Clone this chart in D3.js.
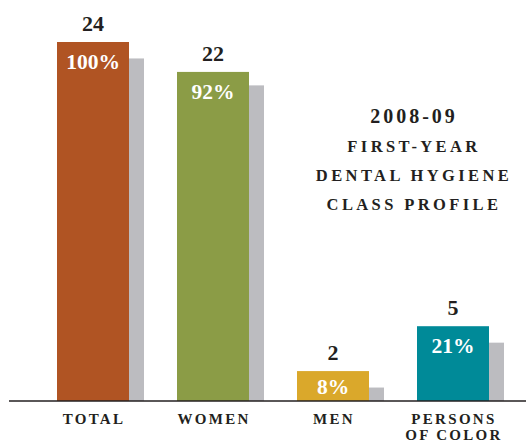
<!DOCTYPE html>
<html>
<head>
<meta charset="utf-8">
<script src="https://cdn.jsdelivr.net/npm/d3@7"></script>
<style>
  body { margin: 0; background: #fff; }
  text { font-family: "Liberation Serif", "DejaVu Serif", serif; }
</style>
</head>
<body>
<script>
// chart data
const categories = ["TOTAL", "WOMEN", "MEN", "PERSONS OF COLOR"];
const counts = [24, 22, 2, 5];
const percents = ["100%", "92%", "8%", "21%"];
const shadowValues = [22.9, 21.1, 0.9, 3.9]; // grey bars behind
const barColors = ["#B05423", "#8B9C46", "#DAA82B", "#008A98"];
const titleLines = ["2008-09", "FIRST-YEAR", "DENTAL HYGIENE", "CLASS PROFILE"];

const W = 526, H = 441;
const baseline = 401;

const svg = d3.select("body").append("svg")
    .attr("width", W)
    .attr("height", H);

// x scale: one band per category, colored bar is 72px, grey one sticks out 15px
const x = d3.scaleBand()
    .domain(categories)
    .range([21, 525])
    .paddingInner(0.4)
    .paddingOuter(0.3);

const y = d3.scaleLinear()
    .domain([0, 24])
    .range([baseline, 42]);

const shadowW = 15;

// grey bars (drawn first, behind)
svg.selectAll(".shadow")
    .data(categories)
    .enter()
    .append("rect")
    .attr("class", "shadow")
    .attr("x", d => x(d) + x.bandwidth())
    .attr("y", (d, i) => y(shadowValues[i]))
    .attr("width", shadowW)
    .attr("height", (d, i) => baseline - y(shadowValues[i]))
    .attr("fill", "#BCBCC0");

// colored bars
svg.selectAll(".bar")
    .data(categories)
    .enter()
    .append("rect")
    .attr("class", "bar")
    .attr("x", d => x(d))
    .attr("y", (d, i) => y(counts[i]))
    .attr("width", x.bandwidth())
    .attr("height", (d, i) => baseline - y(counts[i]))
    .attr("fill", (d, i) => barColors[i]);

// counts above the bars
svg.selectAll(".count")
    .data(categories)
    .enter()
    .append("text")
    .attr("x", d => x(d) + x.bandwidth() / 2)
    .attr("y", (d, i) => y(counts[i]) - 11)
    .attr("text-anchor", "middle")
    .attr("font-size", 22)
    .attr("font-weight", "bold")
    .attr("fill", "#231F20")
    .text((d, i) => counts[i]);

// percentages inside the bars
svg.selectAll(".pct")
    .data(categories)
    .enter()
    .append("text")
    .attr("x", d => x(d) + x.bandwidth() / 2)
    .attr("y", (d, i) => Math.min(y(counts[i]) + 27, baseline - 7))
    .attr("text-anchor", "middle")
    .attr("font-size", 21.5)
    .attr("font-weight", "bold")
    .attr("fill", "#fff")
    .text((d, i) => percents[i]);

// baseline / axis
const axis = svg.append("g")
    .attr("transform", "translate(0," + baseline + ")")
    .call(d3.axisBottom(x).tickSize(0).tickFormat(""));
axis.select(".domain").remove();
axis.append("line")
    .attr("x1", 9)
    .attr("x2", W)
    .attr("stroke", "#231F20")
    .attr("stroke-width", 1.5);

// category labels (wrapped)
const labelLines = { "PERSONS OF COLOR": ["PERSONS", "OF COLOR"] };
svg.selectAll(".cat")
    .data(categories)
    .enter()
    .append("text")
    .attr("class", "cat")
    .attr("text-anchor", "middle")
    .attr("font-size", 15)
    .attr("font-weight", "bold")
    .attr("letter-spacing", 2.3)
    .attr("fill", "#231F20")
    .each(function (d) {
        const lines = labelLines[d] || [d];
        const t = d3.select(this);
        lines.forEach((ln, j) => {
            t.append("tspan")
                .attr("x", x(d) + x.bandwidth() / 2 + 1)
                .attr("y", 424 + j * 15.5)
                .text(ln);
        });
    });

// title block
svg.selectAll(".title")
    .data(titleLines)
    .enter()
    .append("text")
    .attr("x", 414)
    .attr("y", (d, i) => 123 + i * 29)
    .attr("text-anchor", "middle")
    .attr("font-size", (d, i) => i === 0 ? 20 : 16.5)
    .attr("font-weight", "bold")
    .attr("letter-spacing", (d, i) => i === 0 ? 3 : 3.4)
    .attr("fill", "#231F20")
    .text(d => d);
</script>
</body>
</html>
